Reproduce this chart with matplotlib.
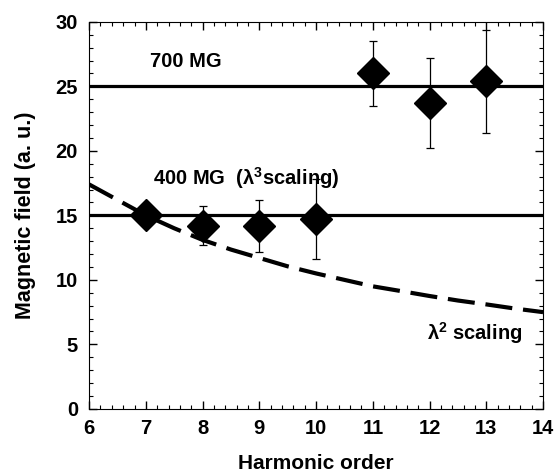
import numpy as np
import matplotlib.pyplot as plt

plt.rcParams['font.family'] = ['Liberation Sans', 'DejaVu Sans']
plt.rcParams['font.weight'] = 'bold'
plt.rcParams['mathtext.default'] = 'regular'

# measured points
order = [7, 8, 9, 10, 11, 12, 13]
field = [15.0, 14.2, 14.2, 14.7, 26.0, 23.7, 25.4]
err = [0.0, 1.5, 2.0, 3.1, 2.5, 3.5, 4.0]

# lambda^2 scaling curve
curve_x = [6, 6.5, 7, 7.5, 8, 8.5, 9, 9.5, 10, 10.5, 11, 11.5, 12, 12.5, 13, 13.5, 14]
curve_y = [17.4, 16.2, 15.0, 14.0, 13.1, 12.35, 11.7, 11.05, 10.5, 10.0, 9.5, 9.13,
           8.75, 8.4, 8.1, 7.78, 7.5]

levels = [25, 15]

fig = plt.figure(figsize=(5.57, 4.76), dpi=100)
ax = fig.add_axes([0.16, 0.141, 0.815, 0.813])

for lv in levels:
    ax.plot([6, 14], [lv, lv], color='black', linewidth=2.3)

ax.plot(curve_x, curve_y, color='black', linewidth=3, linestyle=(0, (6.5, 2.6)))

ax.errorbar(order, field, yerr=err, fmt='D', color='black', markersize=16,
            elinewidth=0.9, capsize=3, capthick=0.9, zorder=5)

ax.text(7.07, 26.9, '700 MG', fontsize=14.5, fontweight='bold', va='center')
ax.text(7.13, 17.9, '400 MG  (\u03bb$^3$scaling)', fontsize=14.5, fontweight='bold', va='center')
ax.text(11.95, 5.9, '\u03bb$^2$ scaling', fontsize=14.5, fontweight='bold', va='center')

ax.set_xlim(6, 14)
ax.set_ylim(0, 30)
ax.set_xticks(range(6, 15))
ax.set_yticks(range(0, 31, 5))
ax.set_xticks(np.arange(6, 14.01, 0.2), minor=True)
ax.set_yticks(range(0, 31), minor=True)

ax.tick_params(axis='both', which='both', direction='in', top=True, right=True)
ax.tick_params(axis='both', which='major', length=6, width=1, labelsize=14.5)
ax.tick_params(axis='x', which='major', pad=7)
ax.tick_params(axis='y', which='major', pad=8)
ax.tick_params(axis='both', which='minor', length=3, width=0.8)
for lab in ax.get_xticklabels() + ax.get_yticklabels():
    lab.set_fontweight('bold')

ax.set_xlabel('Harmonic order', fontsize=15, fontweight='bold', labelpad=12)
ax.set_ylabel('Magnetic field (a. u.)', fontsize=15.5, fontweight='bold', labelpad=14)

fig.savefig('out.png', dpi=100)
